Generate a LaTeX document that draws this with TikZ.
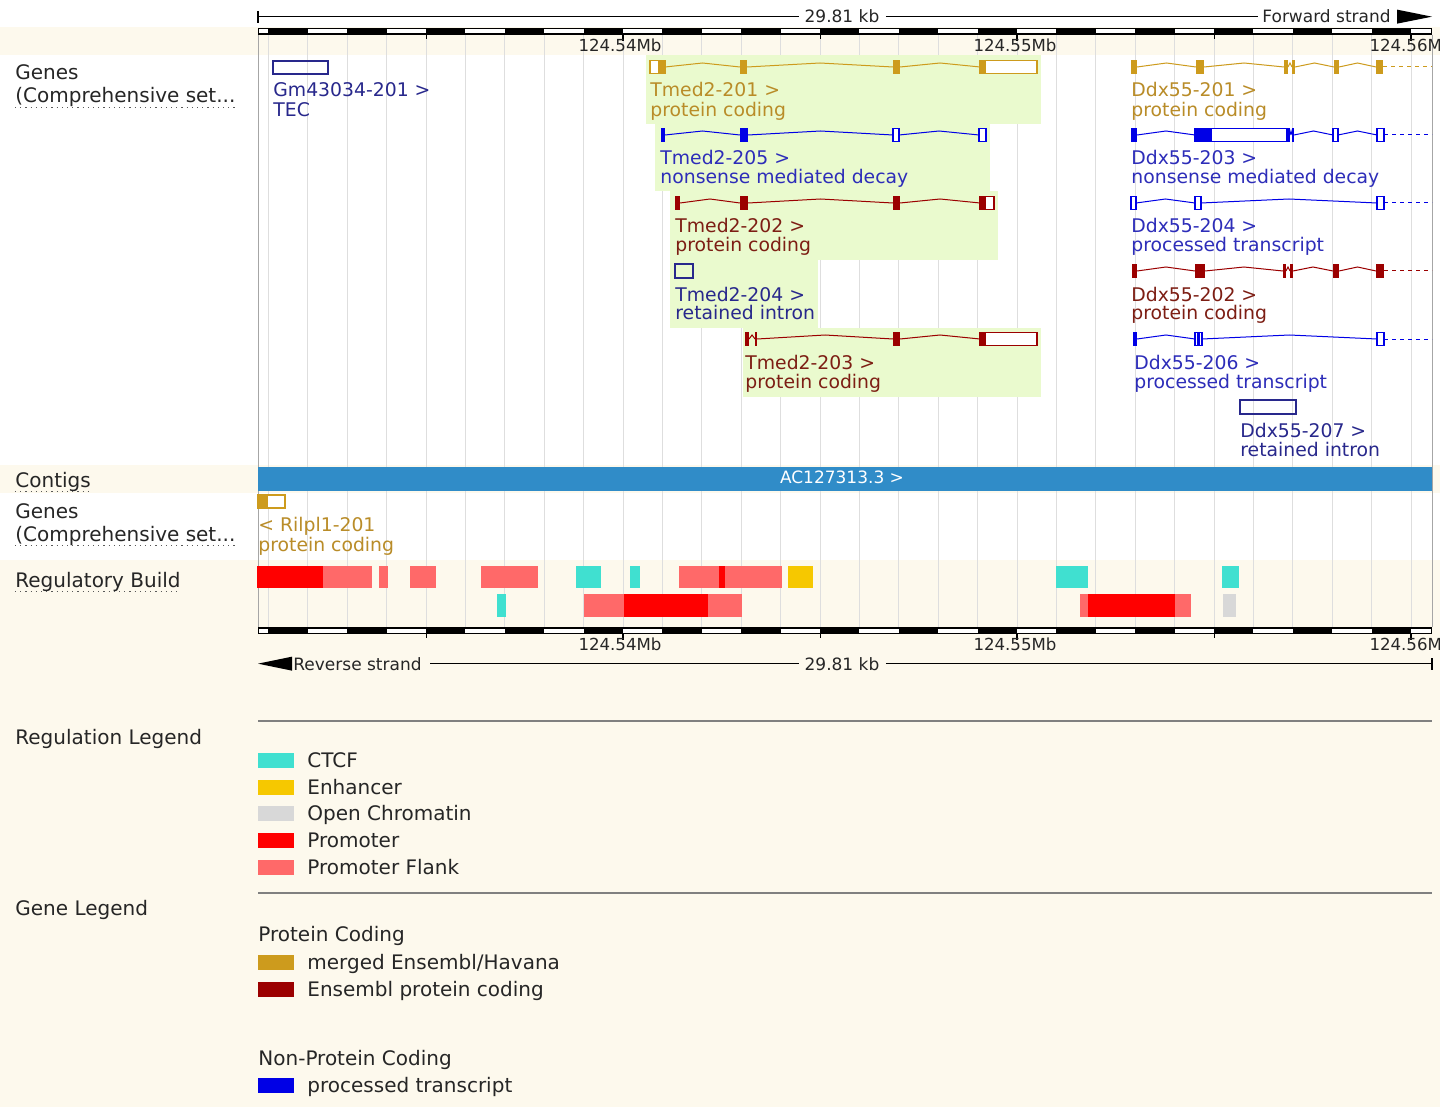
\documentclass[tikz,border=0pt]{standalone}
\usepackage{fontspec}
\setmainfont{DejaVu Sans}
\usetikzlibrary{positioning}

\definecolor{cream}{RGB}{253,249,237}
\definecolor{gridgrey}{RGB}{222,222,222}
\definecolor{hlgreen}{RGB}{234,250,206}
\definecolor{mergedgold}{RGB}{205,155,29}
\definecolor{goldtext}{RGB}{185,140,40}
\definecolor{enspc}{RGB}{155,0,0}
\definecolor{redtext}{RGB}{125,30,20}
\definecolor{procblue}{RGB}{0,0,230}
\definecolor{bluetext}{RGB}{45,45,185}
\definecolor{navybox}{RGB}{40,40,140}
\definecolor{contigblue}{RGB}{48,140,200}
\definecolor{ctcf}{RGB}{64,224,208}
\definecolor{enhancer}{RGB}{246,200,0}
\definecolor{openchrom}{RGB}{216,216,216}
\definecolor{promoter}{RGB}{255,0,0}
\definecolor{pflank}{RGB}{255,105,105}

% exon / intron helpers (x in px, y = centre of the track row)
\newcommand{\exonc}[4]{\fill[#1] (#2,#4-7) rectangle (#3,#4+7);}
\newcommand{\exonu}[4]{\draw[#1,fill=white,line width=0.7pt] (#2,#4-6.5) rectangle (#3,#4+6.5);}
\newcommand{\intronl}[4]{\draw[#1,line width=0.5pt] (#2,#4) -- ({(#2+#3)/2},#4-4) -- (#3,#4);}
\newcommand{\tailln}[3]{\draw[#1,line width=0.5pt,dash pattern=on 2pt off 2pt] (#2,#3) -- (1432,#3);}

\tikzset{
  glbl/.style={anchor=base west, inner sep=0pt, font=\fontsize{9.4}{11}\selectfont},
  side/.style={anchor=base west, inner sep=0pt, text=black!85, font=\fontsize{10}{12}\selectfont},
  leg/.style={anchor=base west, inner sep=0pt, text=black!85, font=\fontsize{10}{12}\selectfont},
  mb/.style={anchor=base, inner sep=0pt, text=black!85, font=\fontsize{8.3}{10}\selectfont},
  kb/.style={inner sep=0pt, text=black!85, font=\fontsize{8.5}{10}\selectfont},
  gridln/.style={gridgrey, line width=0.5pt},
  swatch/.style={anchor=north west, minimum width=18pt, minimum height=7.5pt, inner sep=0pt},
  undl/.style={black!65, line width=0.6pt, dotted}
}

\begin{document}
\begin{tikzpicture}[x=0.5pt,y=-0.5pt]
\useasboundingbox (0,0) rectangle (1440,1107);
% backgrounds
\fill[white] (0,0) rectangle (1440,1107);
\fill[cream] (0,27) rectangle (1440,55);
\fill[cream] (0,465) rectangle (1440,493);
\fill[cream] (0,560) rectangle (1440,1107);
\foreach \k in {0,...,29}
  \draw[gridln] ({268.4+39.4*\k},35) -- ({268.4+39.4*\k},627);
\draw[black!35, line width=0.5pt] (258,35) -- (258,627);
\draw[black!35, line width=0.5pt] (1432,35) -- (1432,627);

% highlighted Tmed2 transcripts
\fill[hlgreen] (646,55) rectangle (1041,124);
\fill[hlgreen] (655,124) rectangle (990,191);
\fill[hlgreen] (670,191) rectangle (998,260);
\fill[hlgreen] (670,260) rectangle (818,328);
\fill[hlgreen] (743,328) rectangle (1041,397);

% Gm43034-201
\draw[navybox, line width=0.7pt] (273,61) rectangle (328,74);
\node[glbl, navybox] (gm) at (273,97) {Gm43034-201 >};
\node[glbl, navybox] (gmb) at (273,117) {TEC};

% Tmed2-201
\exonu{mergedgold}{650}{665}{67} \exonc{mergedgold}{658}{665}{67}
\intronl{mergedgold}{665}{740}{67} \exonc{mergedgold}{740}{747}{67}
\intronl{mergedgold}{747}{893}{67} \exonc{mergedgold}{893}{900}{67}
\intronl{mergedgold}{900}{980}{67}
\exonu{mergedgold}{980}{1037}{67} \exonc{mergedgold}{980}{986}{67}
\node[glbl, goldtext] (t201) at (650,97) {Tmed2-201 >};
\node[glbl, goldtext] (t201b) at (650,117) {protein coding};

% Tmed2-205
\exonc{procblue}{661}{665}{135} \intronl{procblue}{665}{740}{135}
\exonc{procblue}{740}{748}{135} \intronl{procblue}{748}{893}{135}
\exonu{procblue}{893}{899}{135} \intronl{procblue}{899}{979}{135}
\exonu{procblue}{979}{986}{135}
\node[glbl, bluetext] (t205) at (660,165) {Tmed2-205 >};
\node[glbl, bluetext] (t205b) at (660,184) {nonsense mediated decay};

% Tmed2-202
\exonc{enspc}{675}{680}{203} \intronl{enspc}{680}{740}{203}
\exonc{enspc}{740}{748}{203} \intronl{enspc}{748}{893}{203}
\exonc{enspc}{893}{900}{203} \intronl{enspc}{900}{980}{203}
\exonu{enspc}{980}{994}{203} \exonc{enspc}{980}{986}{203}
\node[glbl, redtext] (t202) at (675,233) {Tmed2-202 >};
\node[glbl, redtext] (t202b) at (675,252) {protein coding};

% Tmed2-204
\draw[navybox, line width=0.7pt] (675,264) rectangle (693,278);
\node[glbl, navybox] (t204) at (675,301) {Tmed2-204 >};
\node[glbl, navybox] (t204b) at (675,320) {retained intron};

% Tmed2-203
\exonc{enspc}{745}{749}{339} \intronl{enspc}{749}{755}{339}
\exonc{enspc}{755}{757}{339} \intronl{enspc}{757}{893}{339}
\exonc{enspc}{893}{900}{339} \intronl{enspc}{900}{980}{339}
\exonu{enspc}{980}{1037}{339} \exonc{enspc}{980}{986}{339}
\node[glbl, redtext] (t203) at (745,369) {Tmed2-203 >};
\node[glbl, redtext] (t203b) at (745,388) {protein coding};

% Ddx55-201
\exonc{mergedgold}{1131}{1137}{67} \intronl{mergedgold}{1137}{1196}{67}
\exonc{mergedgold}{1196}{1204}{67} \intronl{mergedgold}{1204}{1284}{67}
\exonc{mergedgold}{1284}{1288}{67} \intronl{mergedgold}{1288}{1292}{67}
\exonc{mergedgold}{1292}{1295}{67} \intronl{mergedgold}{1295}{1334}{67}
\exonc{mergedgold}{1334}{1339}{67} \intronl{mergedgold}{1339}{1376}{67}
\exonc{mergedgold}{1376}{1383}{67} \tailln{mergedgold}{1383}{67}
\node[glbl, goldtext] (d201) at (1131,97) {Ddx55-201 >};
\node[glbl, goldtext] (d201b) at (1131,117) {protein coding};

% Ddx55-203
\exonc{procblue}{1131}{1137}{135} \intronl{procblue}{1137}{1195}{135}
\exonu{procblue}{1195}{1287}{135} \exonc{procblue}{1195}{1212}{135}
\exonc{procblue}{1288}{1290}{135} \intronl{procblue}{1290}{1292}{135}
\exonc{procblue}{1292}{1294}{135} \intronl{procblue}{1294}{1333}{135}
\exonu{procblue}{1333}{1338}{135} \intronl{procblue}{1338}{1377}{135}
\exonu{procblue}{1377}{1384}{135} \tailln{procblue}{1384}{135}
\node[glbl, bluetext] (d203) at (1131,165) {Ddx55-203 >};
\node[glbl, bluetext] (d203b) at (1131,184) {nonsense mediated decay};

% Ddx55-204
\exonu{procblue}{1131}{1136}{203} \intronl{procblue}{1136}{1195}{203}
\exonu{procblue}{1195}{1201}{203} \intronl{procblue}{1201}{1377}{203}
\exonu{procblue}{1377}{1384}{203} \tailln{procblue}{1384}{203}
\node[glbl, bluetext] (d204) at (1131,233) {Ddx55-204 >};
\node[glbl, bluetext] (d204b) at (1131,252) {processed transcript};

% Ddx55-202
\exonc{enspc}{1132}{1137}{271} \intronl{enspc}{1137}{1195}{271}
\exonc{enspc}{1195}{1205}{271} \intronl{enspc}{1205}{1283}{271}
\exonc{enspc}{1283}{1286}{271} \intronl{enspc}{1286}{1290}{271}
\exonc{enspc}{1290}{1293}{271} \intronl{enspc}{1293}{1333}{271}
\exonc{enspc}{1333}{1339}{271} \intronl{enspc}{1339}{1376}{271}
\exonc{enspc}{1376}{1384}{271} \tailln{enspc}{1384}{271}
\node[glbl, redtext] (d202) at (1131,301) {Ddx55-202 >};
\node[glbl, redtext] (d202b) at (1131,320) {protein coding};

% Ddx55-206
\exonc{procblue}{1133}{1137}{339} \intronl{procblue}{1137}{1195}{339}
\exonu{procblue}{1195}{1198}{339} \exonu{procblue}{1199}{1202}{339}
\intronl{procblue}{1202}{1377}{339}
\exonu{procblue}{1377}{1384}{339} \tailln{procblue}{1384}{339}
\node[glbl, bluetext] (d206) at (1134,369) {Ddx55-206 >};
\node[glbl, bluetext] (d206b) at (1134,388) {processed transcript};

% Ddx55-207
\draw[navybox, line width=0.7pt] (1240,400) rectangle (1296,414);
\node[glbl, navybox] (d207) at (1240,437) {Ddx55-207 >};
\node[glbl, navybox] (d207b) at (1240,456) {retained intron};

% contig
\fill[contigblue] (258,467) rectangle (1432,491);
\node[kb, anchor=base, white] (ctg) at (842,483) {AC127313.3 >};

% Rilpl1-201 (reverse strand)
\draw[mergedgold, fill=white, line width=0.7pt] (258,495) rectangle (285,508);
\fill[mergedgold] (258,495) rectangle (268,508);
\node[glbl, goldtext] (r201) at (258,531) {< Rilpl1-201};
\node[glbl, goldtext] (r201b) at (258,551) {protein coding};

% regulatory build
\fill[promoter] (257,566) rectangle (323,588);
\fill[pflank] (323,566) rectangle (372,588);
\fill[pflank] (379,566) rectangle (388,588);
\fill[pflank] (410,566) rectangle (436,588);
\fill[pflank] (481,566) rectangle (538,588);
\fill[ctcf] (576,566) rectangle (601,588);
\fill[ctcf] (630,566) rectangle (640,588);
\fill[pflank] (679,566) rectangle (782,588);
\fill[promoter] (719,566) rectangle (725,588);
\fill[enhancer] (788,566) rectangle (813,588);
\fill[ctcf] (1056,566) rectangle (1088,588);
\fill[ctcf] (1222,566) rectangle (1239,588);
\fill[ctcf] (497,594) rectangle (506,617);
\fill[pflank] (584,594) rectangle (742,617);
\fill[promoter] (624,594) rectangle (708,617);
\fill[pflank] (1080,594) rectangle (1191,617);
\fill[promoter] (1088,594) rectangle (1175,617);
\fill[openchrom] (1223,594) rectangle (1236,617);

% rulers (top and bottom)
\foreach \ry in {28, 627} {
  \fill[black] (258,\ry) rectangle (1432,\ry+7);
  \fill[white] (259,\ry+1.5) rectangle (268.4,\ry+5.5);
  \foreach \m in {0,...,13}
    \fill[white] ({307.8+78.8*\m},\ry+1.5) rectangle ({347.2+78.8*\m},\ry+5.5);
  \fill[white] (1411,\ry+1.5) rectangle (1431,\ry+5.5);
  \foreach \t in {426,820,1214} \draw[line width=0.5pt] (\t,\ry+7) -- (\t,\ry+11);
  \foreach \t in {623,1017,1411} \draw[line width=0.6pt] (\t,\ry+7) -- (\t,\ry+13);
}
\node[mb] (mb1) at (620,52) {124.54Mb};
\node[mb] (mb2) at (1015,52) {124.55Mb};
\node[mb] (mb3) at (1411,52) {124.56Mb};
\node[mb] (mb4) at (620,650) {124.54Mb};
\node[mb] (mb5) at (1015,650) {124.55Mb};
\node[mb] (mb6) at (1411,650) {124.56Mb};

% forward strand line
\coordinate (fl) at (258,17);
\node[kb, anchor=base] (kbtop) at (842,23) {29.81 kb};
\node[kb, anchor=base west] (fwd) at (1262,23) {Forward strand};
\draw[line width=0.6pt] (258,11) -- (258,23);
\draw[line width=0.6pt] (fl |- kbtop.west) -- ([xshift=-2.5pt]kbtop.west);
\draw[line width=0.6pt] ([xshift=3pt]kbtop.east) -- ([xshift=-2pt]fwd.west);
\fill ([xshift=3pt,yshift=3.5pt]fwd.east) -- ([xshift=3pt,yshift=-3.5pt]fwd.east)
  -- (1432,0 |- fwd.east) -- cycle;

% reverse strand line
\coordinate (rl) at (1432,664);
\node[kb, anchor=base west] (rev) at (293,670) {Reverse strand};
\node[kb, anchor=base] (kbbot) at (842,670) {29.81 kb};
\draw[line width=0.6pt] ([xshift=4pt]rev.east) -- ([xshift=-2.5pt]kbbot.west);
\draw[line width=0.6pt] ([xshift=3pt]kbbot.east) -- (rl |- kbbot.east);
\draw[line width=0.6pt] (1432,658) -- (1432,670);
\fill (258,0 |- rev.west) -- ([xshift=-0.5pt,yshift=3.5pt]rev.west)
  -- ([xshift=-0.5pt,yshift=-3.5pt]rev.west) -- cycle;

% track labels
\node[side] (g1) at (15,80) {Genes};
\node[side] (g1b) at (15,103) {(Comprehensive set...};
\draw[undl] (g1b.south west) -- (g1b.south east);
\node[side] (ctgl) at (15,487) {Contigs};
\draw[undl] (ctgl.south west) -- (ctgl.south east);
\node[side] (g2) at (15,518) {Genes};
\node[side] (g2b) at (15,541) {(Comprehensive set...};
\draw[undl] (g2b.south west) -- (g2b.south east);
\node[side] (regl) at (15,587) {Regulatory Build};
\draw[undl] (regl.south west) -- (regl.south east);

% legends
\node[side] (rleg) at (15,744) {Regulation Legend};
\draw[black!50, line width=0.6pt] (258,721) -- (1432,721);
\node[swatch, fill=ctcf] (sw1) at (258,753) {};
\node[leg] (l1) at (307,767) {CTCF};
\node[swatch, fill=enhancer] (sw2) at (258,780) {};
\node[leg] (l2) at (307,794) {Enhancer};
\node[swatch, fill=openchrom] (sw3) at (258,806) {};
\node[leg] (l3) at (307,820) {Open Chromatin};
\node[swatch, fill=promoter] (sw4) at (258,833) {};
\node[leg] (l4) at (307,847) {Promoter};
\node[swatch, fill=pflank] (sw5) at (258,860) {};
\node[leg] (l5) at (307,874) {Promoter Flank};
\draw[black!50, line width=0.6pt] (258,893) -- (1432,893);

\node[side] (gleg) at (15,915) {Gene Legend};
\node[leg] (pc) at (258,941) {Protein Coding};
\node[swatch, fill=mergedgold] (sw6) at (258,955) {};
\node[leg] (l6) at (307,969) {merged Ensembl/Havana};
\node[swatch, fill=enspc] (sw7) at (258,982) {};
\node[leg] (l7) at (307,996) {Ensembl protein coding};
\node[leg] (npc) at (258,1065) {Non-Protein Coding};
\node[swatch, fill=procblue] (sw8) at (258,1078) {};
\node[leg] (l8) at (307,1092) {processed transcript};
\end{tikzpicture}
\end{document}
